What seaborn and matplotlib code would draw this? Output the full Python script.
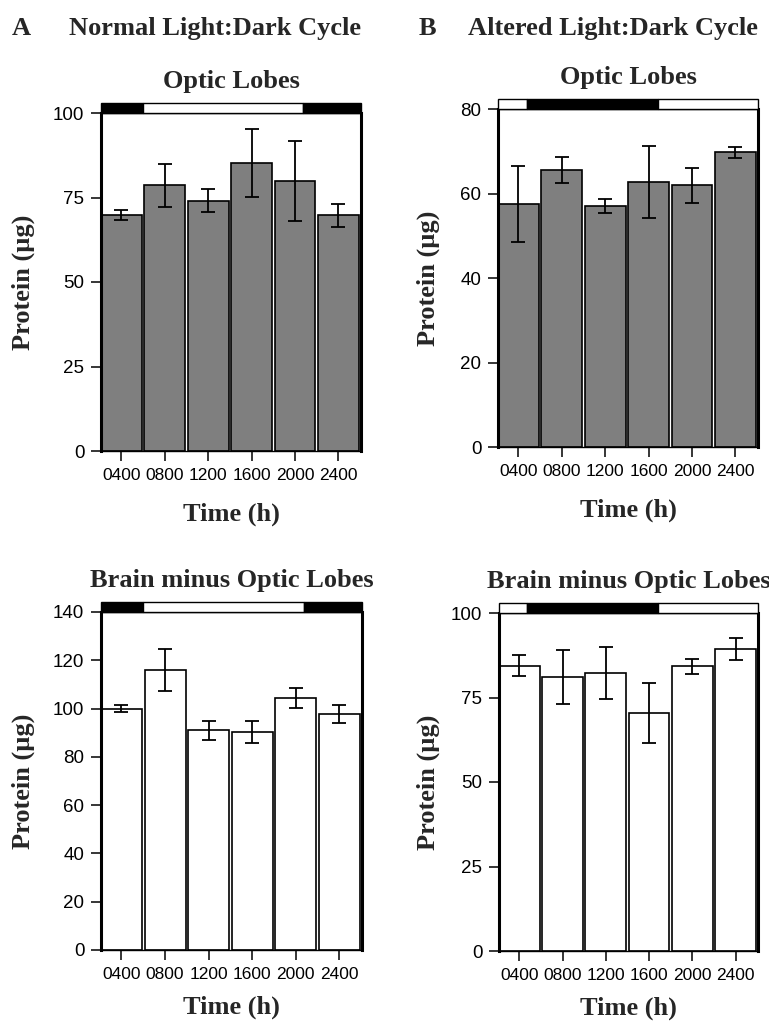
import numpy as np
import pandas as pd
import matplotlib
matplotlib.use("Agg")
from matplotlib import pyplot as plt
from matplotlib.patches import Rectangle
import matplotlib.transforms as mtransforms
import seaborn as sns

# time points (h)
times = ['0400', '0800', '1200', '1600', '2000', '2400']

# A: normal light:dark cycle
optic_normal = [69.7, 78.6, 74.0, 85.2, 79.8, 69.7]
optic_normal_err = [1.5, 6.3, 3.4, 10.0, 11.8, 3.4]
brain_normal = [100.0, 115.9, 91.0, 90.3, 104.5, 97.6]
brain_normal_err = [1.3, 8.6, 4.0, 4.4, 4.1, 3.7]

# B: altered light:dark cycle
optic_altered = [57.5, 65.6, 57.0, 62.8, 61.9, 69.8]
optic_altered_err = [9.0, 3.1, 1.6, 8.5, 4.1, 1.3]
brain_altered = [84.4, 81.1, 82.2, 70.4, 84.3, 89.4]
brain_altered_err = [3.1, 8.1, 7.7, 8.9, 2.2, 3.2]

# lights on / off (hours) for the bar above each plot
normal_lights = (6.0, 20.75)     # light between these
altered_dark = (4.75, 16.85)     # dark between these

sns.set_style('ticks')
plt.rcParams['font.family'] = ['Liberation Sans', 'DejaVu Sans']

serif = ['Liberation Serif', 'DejaVu Serif']
XLIM = (-0.47, 5.52)


def hour_to_x(h):
    return h / 4.0 - 1.0


def light_bar(ax, segments):
    # segments: list of (x0, x1, colour) in category coords
    trans = mtransforms.blended_transform_factory(ax.transData, ax.transAxes)
    for x0, x1, c in segments:
        ax.add_patch(Rectangle((x0, 1.0), x1 - x0, 0.03, transform=trans,
                               facecolor=c, edgecolor='black', lw=1.0,
                               clip_on=False, zorder=5))


def panel(ax, vals, errs, color, yticks, title, ylab_x, xlab_y):
    df = pd.DataFrame({'Time': times, 'Protein': vals})
    sns.barplot(data=df, x='Time', y='Protein', color=color, saturation=1,
                edgecolor='black', linewidth=1.2, width=0.94, ax=ax)
    ax.errorbar(np.arange(len(times)), vals, yerr=errs, fmt='none',
                ecolor='black', elinewidth=1.3, capsize=5, capthick=1.3,
                zorder=4)
    ax.set_xlim(*XLIM)
    ax.set_ylim(yticks[0], yticks[-1])
    ax.set_yticks(yticks)
    ax.tick_params(axis='both', length=7, width=1.1, pad=5, colors='black')
    ax.tick_params(axis='x', labelsize=12.5)
    ax.tick_params(axis='y', labelsize=13.5)
    for s in ['left', 'right']:
        ax.spines[s].set_linewidth(2.2)
    for s in ['top', 'bottom']:
        ax.spines[s].set_linewidth(1.0)
    for s in ax.spines.values():
        s.set_color('black')
    ax.set_title(title, fontsize=19, fontweight='bold', family=serif, pad=18)
    ax.set_ylabel('Protein (µg)', fontsize=19, fontweight='bold', family=serif)
    ax.set_xlabel('Time (h)', fontsize=19, fontweight='bold', family=serif)
    ax.yaxis.set_label_coords(ylab_x, 0.5)
    ax.xaxis.set_label_coords(0.5, xlab_y)
    ax.xaxis.label.set_va('top')


fig = plt.figure(figsize=(7.69, 10.23), dpi=100)
W, H = 769.0, 1023.0


def add_ax(left, top, right, bottom):
    return fig.add_axes([left / W, 1 - bottom / H, (right - left) / W,
                         (bottom - top) / H])


ax1 = add_ax(101, 113, 361, 451)
ax2 = add_ax(498, 109, 758, 447)
ax3 = add_ax(101, 612, 362, 950)
ax4 = add_ax(499, 613, 758, 951)

panel(ax1, optic_normal, optic_normal_err, '#7f7f7f', [0, 25, 50, 75, 100],
      'Optic Lobes', -0.254, -0.153)
panel(ax2, optic_altered, optic_altered_err, '#7f7f7f', [0, 20, 40, 60, 80],
      'Optic Lobes', -0.223, -0.153)
panel(ax3, brain_normal, brain_normal_err, 'white',
      [0, 20, 40, 60, 80, 100, 120, 140], 'Brain minus Optic Lobes', -0.254,
      -0.135)
panel(ax4, brain_altered, brain_altered_err, 'white', [0, 25, 50, 75, 100],
      'Brain minus Optic Lobes', -0.228, -0.135)

on, off = hour_to_x(normal_lights[0]), hour_to_x(normal_lights[1])
for ax in (ax1, ax3):
    light_bar(ax, [(XLIM[0], on, 'black'), (on, off, 'white'),
                   (off, XLIM[1], 'black')])
d0, d1 = hour_to_x(altered_dark[0]), hour_to_x(altered_dark[1])
for ax in (ax2, ax4):
    light_bar(ax, [(XLIM[0], d0, 'white'), (d0, d1, 'black'),
                   (d1, XLIM[1], 'white')])

# panel headers
hdr = dict(fontsize=19, fontweight='bold', family=serif, va='baseline')
fig.text(12 / W, 1 - 35 / H, 'A', **hdr)
fig.text(69 / W, 1 - 35 / H, 'Normal Light:Dark Cycle', **hdr)
fig.text(419 / W, 1 - 35 / H, 'B', **hdr)
fig.text(468 / W, 1 - 35 / H, 'Altered Light:Dark Cycle', **hdr)

fig.savefig('out.png', dpi=100)
